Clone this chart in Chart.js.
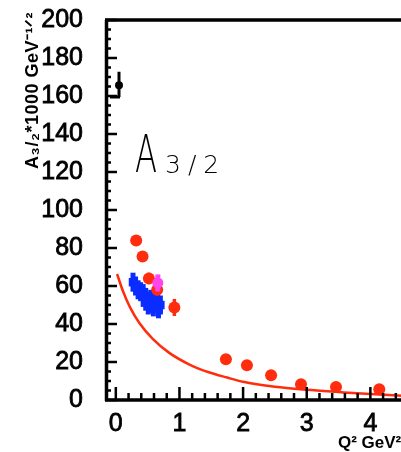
<!DOCTYPE html>
<html>
<head>
<meta charset="utf-8">
<script src="https://cdn.jsdelivr.net/npm/chart.js@4.4.0/dist/chart.umd.min.js"></script>
<style>
html, body { margin: 0; padding: 0; background: #fff; overflow: hidden; }
#plot { display: block; }
</style>
</head>
<body>
<canvas id="plot" width="440" height="452"></canvas>
<script>
// photo point at Q2 = 0
const photoQ2 = [0.05];
const photoA = [165.7];
const photoErrLo = [6.2];
const photoErrHi = [7.0];

// red data set
const redQ2 = [0.32, 0.42, 0.52, 0.65, 0.92, 1.73, 2.06, 2.44, 2.91, 3.46, 4.14];
const redA = [84.0, 75.5, 64.0, 58.0, 48.7, 21.5, 18.3, 13.0, 8.3, 6.9, 5.6];
const redErr = [2.5, 2.0, 3.0, 3.0, 4.5, 1.0, 1.0, 1.0, 1.0, 1.0, 1.0];

// blue data set (low Q2 cluster)
const blueQ2 = [0.27, 0.31, 0.35, 0.39, 0.43, 0.47, 0.51, 0.55, 0.59, 0.63, 0.67, 0.70];
const blueA = [62, 60, 58, 57, 55, 53, 51, 52, 50, 54, 48, 50];
const blueErr = [5, 5, 5, 5, 6, 6, 6, 6, 6, 5, 5, 5];

// magenta point
const magQ2 = [0.66];
const magA = [61.6];
const magErr = [4.5];

// model curve
const curveQ2 = [0.02, 0.11, 0.22, 0.37, 0.58, 0.84, 1.15, 1.46, 1.75, 2.0, 2.5, 3.0, 3.5, 4.0, 4.5, 5.0];
const curveA = [66.3, 57.5, 49.0, 40.5, 32.2, 24.8, 18.8, 14.6, 11.8, 9.6, 7.0, 5.4, 4.2, 3.1, 2.3, 1.8];

const xTicks = [0, 1, 2, 3, 4, 5];
const yTicks = [0, 20, 40, 60, 80, 100, 120, 140, 160, 180, 200];

const yTitle = 'A₃/₂*1000 GeV⁻¹ᐟ²';
const xTitle = 'Q² GeV²';

const RED = '#ff2d0d';
const BLUE = '#0a2cff';
const MAGENTA = '#ff44f0';

function pts(xs, ys) {
    return xs.map((v, i) => ({x: v, y: ys[i]}));
}

// vertical error bars, drawn just under each dataset's markers
const errorBars = {
    id: 'errorBars',
    beforeDatasetDraw(chart, args) {
        const ds = chart.data.datasets[args.index];
        if (!ds.errLo) return;
        const {ctx} = chart;
        const x = chart.scales.x, y = chart.scales.y;
        ctx.save();
        ctx.strokeStyle = ds.backgroundColor;
        ctx.lineWidth = ds.errWidth;
        ds.data.forEach((p, i) => {
            const px = x.getPixelForValue(p.x);
            const lo = y.getPixelForValue(p.y - ds.errLo[i]);
            const hi = y.getPixelForValue(p.y + ds.errHi[i]);
            ctx.beginPath();
            ctx.moveTo(px, lo);
            ctx.lineTo(px, hi);
            if (ds.lowCap) {
                ctx.moveTo(px + 1, lo);
                ctx.lineTo(px - ds.lowCap, lo);
            }
            ctx.stroke();
        });
        ctx.restore();
    }
};

// frame with inward ticks, axis titles and the A3/2 label
const frame = {
    id: 'frame',
    afterDatasetsDraw(chart) {
        const {ctx, chartArea: a} = chart;
        const x = chart.scales.x, y = chart.scales.y;
        ctx.save();
        ctx.strokeStyle = '#000';
        ctx.lineWidth = 2.5;
        ctx.beginPath();
        for (let v = 0; v <= 200; v += 5) {
            const py = y.getPixelForValue(v);
            ctx.moveTo(a.left, py);
            ctx.lineTo(a.left + (v % 20 === 0 ? 12 : 6), py);
        }
        for (let k = 0; k <= 25; k++) {
            const px = x.getPixelForValue(k * 0.2);
            ctx.moveTo(px, a.bottom);
            ctx.lineTo(px, a.bottom - (k % 5 === 0 ? 13 : 7));
        }
        ctx.stroke();
        ctx.lineWidth = 3.5;
        ctx.beginPath();
        ctx.moveTo(a.left + 1.5, a.top);
        ctx.lineTo(a.left + 1.5, a.bottom + 1);
        ctx.moveTo(a.left, a.bottom);
        ctx.lineTo(a.right, a.bottom);
        ctx.moveTo(a.left, a.top);
        ctx.lineTo(a.right, a.top);
        ctx.stroke();
        ctx.restore();
    },
    afterDraw(chart) {
        const {ctx} = chart;
        ctx.save();
        ctx.fillStyle = '#000';
        ctx.textBaseline = 'alphabetic';
        ctx.font = "200 52px 'DejaVu Sans', sans-serif";
        ctx.save();
        ctx.translate(135, 172);
        ctx.scale(0.62, 1);
        ctx.fillText('A', 0, 0);
        ctx.restore();
        ctx.font = "200 25px 'DejaVu Sans', sans-serif";
        ctx.letterSpacing = '7px';
        ctx.fillText('3/2', 165, 173);

        ctx.letterSpacing = '0px';
        ctx.font = "bold 17px 'Liberation Sans', sans-serif";
        ctx.fillText(xTitle, 338, 448);

        ctx.save();
        ctx.translate(33, 12);
        ctx.rotate(-Math.PI / 2);
        ctx.textAlign = 'right';
        ctx.textBaseline = 'middle';
        ctx.font = "bold 18px 'Liberation Sans', sans-serif";
        ctx.letterSpacing = '0.5px';
        ctx.fillText(yTitle, 0, 0);
        ctx.restore();
        ctx.restore();
    }
};

const tickFont = {family: 'Liberation Sans', size: 25};

new Chart(document.getElementById('plot'), {
    type: 'scatter',
    data: {
        datasets: [
            {
                data: pts(magQ2, magA),
                backgroundColor: MAGENTA, borderColor: MAGENTA,
                pointRadius: 5.5, pointBorderWidth: 0,
                errLo: magErr, errHi: magErr, errWidth: 5
            },
            {
                data: pts(redQ2, redA),
                backgroundColor: RED, borderColor: RED,
                pointRadius: 6, pointBorderWidth: 0,
                errLo: redErr, errHi: redErr, errWidth: 3.5
            },
            {
                data: pts(photoQ2, photoA),
                backgroundColor: '#000', borderColor: '#000',
                pointRadius: 4, pointBorderWidth: 0,
                errLo: photoErrLo, errHi: photoErrHi, errWidth: 3, lowCap: 9
            },
            {
                data: pts(blueQ2, blueA),
                backgroundColor: BLUE, borderColor: BLUE,
                pointStyle: 'rect', pointRadius: 6, pointBorderWidth: 0,
                errLo: blueErr, errHi: blueErr, errWidth: 5
            },
            {
                data: pts(curveQ2, curveA),
                showLine: true, borderColor: RED, borderWidth: 2.5,
                pointRadius: 0, cubicInterpolationMode: 'monotone'
            }
        ]
    },
    options: {
        responsive: false,
        animation: false,
        devicePixelRatio: 1,
        layout: {padding: {top: 20, right: 2, left: 0, bottom: 0}},
        plugins: {legend: {display: false}, tooltip: {enabled: false}},
        scales: {
            x: {
                type: 'linear', min: -0.17, max: 5.0,
                grid: {display: false}, border: {display: false},
                afterBuildTicks: s => { s.ticks = xTicks.map(v => ({value: v})); },
                afterFit: s => { s.height = 52; s.paddingLeft = 0; s.paddingRight = 0; },
                ticks: {padding: 1, color: '#000', font: tickFont,
                        textStrokeColor: '#000', textStrokeWidth: 0.8}
            },
            y: {
                type: 'linear', min: 0, max: 200,
                grid: {display: false}, border: {display: false},
                afterBuildTicks: s => { s.ticks = yTicks.map(v => ({value: v})); },
                afterFit: s => { s.width = 105; s.paddingTop = 0; s.paddingBottom = 0; },
                ticks: {padding: 14, color: '#000', font: tickFont,
                        textStrokeColor: '#000', textStrokeWidth: 0.8}
            }
        }
    },
    plugins: [errorBars, frame]
});
</script>
</body>
</html>
